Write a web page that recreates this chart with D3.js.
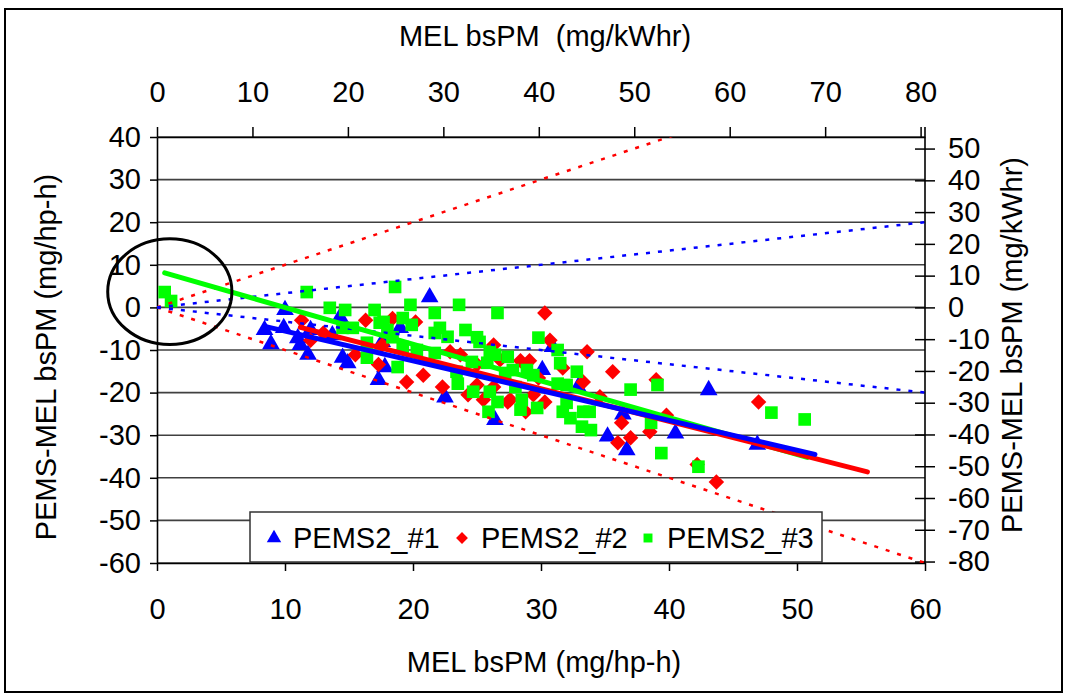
<!DOCTYPE html>
<html>
<head>
<meta charset="utf-8">
<script src="https://cdn.jsdelivr.net/npm/d3@7"></script>
<style>
  body { margin: 0; background: #fff; }
  text { font-family: "Liberation Sans", Arial, sans-serif; white-space: pre; }
</style>
</head>
<body>
<div id="chart"></div>
<script>
// PEMS2_#1 (triangles)
const pems1X = [8.4, 8.9, 10.0, 9.9, 11.0, 11.2, 11.8, 12.0, 14.3, 13.7, 14.5, 14.9, 17.3, 17.6, 17.8, 19.0, 21.3, 22.5, 26.4, 30.1, 30.9, 32.9, 35.2, 36.4, 36.7, 40.5, 43.1, 46.9];
const pems1Y = [-5.3, -8.6, -0.6, -4.8, -7.2, -8.8, -11.1, -5.3, -2.3, -6.5, -11.8, -13.1, -17.0, -8.1, -14.0, -4.8, 2.4, -21.1, -26.4, -14.7, -9.3, -18.7, -30.3, -25.1, -33.5, -29.6, -19.4, -32.2];

// PEMS2_#2 (diamonds)
const pems2X = [11.3, 16.3, 13.0, 12.0, 15.5, 17.3, 17.6, 18.4, 20.2, 19.5, 20.8, 22.3, 22.9, 23.7, 26.3, 24.3, 25.0, 25.5, 26.3, 26.8, 27.4, 25.0, 30.7, 33.6, 35.6, 28.4, 29.1, 27.6, 29.8, 30.3, 31.7, 33.3, 34.6, 36.3, 36.0, 37.0, 29.4, 28.8, 39.0, 39.8, 38.5, 42.2, 43.7, 47.0, 30.3];
const pems2Y = [-3.0, -3.0, -6.0, -7.7, -11.1, -13.4, -8.8, -2.6, -3.4, -17.5, -15.9, -18.7, -10.4, -11.1, -8.8, -20.5, -18.2, -21.7, -18.7, -12.3, -22.2, -13.4, -7.7, -10.4, -15.1, -12.5, -12.5, -21.7, -16.6, -22.2, -14.2, -17.5, -21.0, -27.1, -31.8, -30.6, -20.5, -24.5, -17.0, -25.3, -29.2, -36.9, -41.0, -22.2, -1.3];

// PEMS2_#3 (squares)
const pems3X = [0.6, 1.1, 11.7, 13.5, 14.7, 14.5, 17.0, 17.4, 15.3, 16.4, 16.4, 18.6, 19.8, 21.7, 23.6, 26.6, 17.7, 19.2, 19.9, 18.0, 18.4, 22.1, 21.7, 22.7, 24.1, 25.0, 25.2, 19.2, 20.3, 21.7, 18.8, 23.4, 24.6, 26.0, 26.4, 25.8, 23.5, 24.7, 26.0, 25.9, 26.6, 27.2, 29.8, 31.3, 31.5, 32.8, 27.4, 27.8, 28.9, 29.4, 28.0, 28.5, 28.4, 29.7, 31.3, 32.0, 32.0, 31.7, 32.3, 33.3, 33.8, 33.2, 33.9, 37.0, 39.1, 38.6, 39.4, 42.3, 48.0, 50.6];
const pems3Y = [3.6, 1.5, 3.6, -0.1, -0.6, -4.8, -0.6, -3.6, -4.8, -8.3, -11.8, 4.8, 0.6, -1.3, 0.6, -1.3, -3.4, -2.5, -4.1, -5.3, -7.0, -4.8, -6.0, -6.9, -5.3, -7.0, -8.1, -9.3, -10.0, -10.7, -14.0, -15.1, -12.8, -10.4, -11.1, -13.0, -17.9, -19.8, -19.8, -24.5, -22.2, -15.4, -7.1, -10.0, -13.1, -15.1, -11.6, -14.7, -14.7, -15.9, -18.7, -21.7, -24.0, -23.6, -17.9, -18.2, -22.4, -24.5, -26.0, -24.5, -24.5, -28.0, -28.8, -19.3, -18.2, -27.1, -34.2, -37.4, -24.7, -26.3];

// linear trend lines (end points)
const trend1X = [8.5, 51.4], trend1Y = [-4.5, -34.5];
const trend2X = [11.2, 55.5], trend2Y = [-4.7, -38.6];
const trend3X = [0.6, 50.8], trend3Y = [8.1, -35.2];

// +-100% and +-33% bands
const bandX = [0, 60];
const redUpper = [0, 60], redLower = [0, -60];
const blueUpper = [0, 20], blueLower = [0, -20];

// highlighted region near origin
const markCenter = [1.0, 3.7], markRadius = [4.85, 12.4];

const leftTicks = [40, 30, 20, 10, 0, -10, -20, -30, -40, -50, -60];
const bottomTicks = [0, 10, 20, 30, 40, 50, 60];
const topTicks = [0, 10, 20, 30, 40, 50, 60, 70, 80];
const rightTicks = [50, 40, 30, 20, 10, 0, -10, -20, -30, -40, -50, -60, -70, -80];
const seriesNames = ["PEMS2_#1", "PEMS2_#2", "PEMS2_#3"];

const width = 1069, height = 696;
const plot = { left: 157, right: 925, top: 137, bottom: 563 };
const kw = 0.7457; // hp-h -> kWh

const svg = d3.select("#chart").append("svg")
    .attr("width", width)
    .attr("height", height);

// outer frame
svg.append("rect")
    .attr("x", 5).attr("y", 9)
    .attr("width", 1057).attr("height", 683)
    .attr("fill", "#fff")
    .attr("stroke", "#000")
    .attr("stroke-width", 2);

const x = d3.scaleLinear().domain([0, 60]).range([plot.left, plot.right]);
const y = d3.scaleLinear().domain([-60, 40]).range([plot.bottom, plot.top]);
const xTop = d3.scaleLinear().domain([0, 60 / kw]).range([plot.left, plot.right]);
const yRight = d3.scaleLinear().domain([-60 / kw, 40 / kw]).range([plot.bottom, plot.top]);

svg.append("clipPath").attr("id", "clip")
    .append("rect")
    .attr("x", plot.left).attr("y", plot.top)
    .attr("width", plot.right - plot.left)
    .attr("height", plot.bottom - plot.top);

// grid lines
svg.append("g")
    .selectAll("line")
    .data(leftTicks)
    .join("line")
    .attr("x1", plot.left).attr("x2", plot.right)
    .attr("y1", d => y(d)).attr("y2", d => y(d))
    .attr("stroke", "#404040")
    .attr("stroke-width", 1.6);

const fontSize = "29px";
const fmt = d => String(d);
function styleAxis(g) {
    g.select(".domain").attr("stroke", "#000").attr("stroke-width", 1.6);
    g.selectAll(".tick line").attr("stroke", "#000").attr("stroke-width", 1.5);
    g.selectAll(".tick text").attr("fill", "#000").style("font-size", fontSize)
        .style("font-family", "'Liberation Sans', Arial, sans-serif");
}

svg.append("g")
    .attr("transform", `translate(${plot.left},0)`)
    .call(d3.axisLeft(y).tickValues(leftTicks).tickFormat(fmt).tickSize(7).tickPadding(9).tickSizeOuter(0))
    .call(styleAxis);

svg.append("g")
    .attr("transform", `translate(0,${plot.bottom})`)
    .call(d3.axisBottom(x).tickValues(bottomTicks).tickFormat(fmt).tickSize(8).tickPadding(27).tickSizeOuter(0))
    .call(styleAxis);

svg.append("g")
    .attr("transform", `translate(0,${plot.top})`)
    .call(d3.axisTop(xTop).tickValues(topTicks).tickFormat(fmt).tickSize(10).tickPadding(25).tickSizeOuter(0))
    .call(styleAxis);

const rightAxis = svg.append("g")
    .attr("transform", `translate(${plot.right},0)`)
    .call(d3.axisRight(yRight).tickValues(rightTicks).tickFormat(fmt).tickSize(10).tickPadding(13).tickSizeOuter(0))
    .call(styleAxis);
rightAxis.selectAll(".tick line").attr("x1", -10);
rightAxis.select(".domain").attr("d", `M0,${plot.top - 10}V${plot.bottom}`);

// axis titles
svg.append("text")
    .attr("x", 545).attr("y", 46)
    .attr("text-anchor", "middle")
    .style("font-size", fontSize)
    .text("MEL bsPM  (mg/kWhr)");

svg.append("text")
    .attr("x", 544).attr("y", 672)
    .attr("text-anchor", "middle")
    .style("font-size", fontSize)
    .text("MEL bsPM (mg/hp-h)");

svg.append("text")
    .attr("transform", "translate(56,357) rotate(-90)")
    .attr("text-anchor", "middle")
    .style("font-size", fontSize)
    .text("PEMS-MEL bsPM (mg/hp-h)");

svg.append("text")
    .attr("transform", "translate(1022,345) rotate(-90)")
    .attr("text-anchor", "middle")
    .style("font-size", fontSize)
    .text("PEMS-MEL bsPM (mg/kWhr)");

const chartArea = svg.append("g").attr("clip-path", "url(#clip)");

// markers
const tri = d3.symbol().type(d3.symbolTriangle).size(135);
const dia = d3.symbol().type(d3.symbolSquare).size(120);
const sq = d3.symbol().type(d3.symbolSquare).size(160);

chartArea.append("g").selectAll("path")
    .data(pems1X.map((d, i) => [d, pems1Y[i]]))
    .join("path")
    .attr("d", tri)
    .attr("transform", d => `translate(${x(d[0])},${y(d[1])})`)
    .attr("fill", "#0000ff");

chartArea.append("g").selectAll("path")
    .data(pems2X.map((d, i) => [d, pems2Y[i]]))
    .join("path")
    .attr("d", dia)
    .attr("transform", d => `translate(${x(d[0])},${y(d[1])}) rotate(45)`)
    .attr("fill", "#ff0000");

chartArea.append("g").selectAll("path")
    .data(pems3X.map((d, i) => [d, pems3Y[i]]))
    .join("path")
    .attr("d", sq)
    .attr("transform", d => `translate(${x(d[0])},${y(d[1])})`)
    .attr("fill", "#00ff00");

// dotted bands
const line = d3.line().x(d => x(d[0])).y(d => y(d[1]));
[[redUpper, "#ff0000"], [redLower, "#ff0000"], [blueUpper, "#0000ff"], [blueLower, "#0000ff"]]
    .forEach(([vals, color]) => {
        chartArea.append("path")
            .datum(bandX.map((d, i) => [d, vals[i]]))
            .attr("d", line)
            .attr("fill", "none")
            .attr("stroke", color)
            .attr("stroke-width", 2.5)
            .attr("stroke-dasharray", "4,8");
    });

// trend lines
[[trend3X, trend3Y, "#00ff00"], [trend2X, trend2Y, "#ff0000"], [trend1X, trend1Y, "#0000ff"]]
    .forEach(([xs, ys, color]) => {
        chartArea.append("path")
            .datum(xs.map((d, i) => [d, ys[i]]))
            .attr("d", line)
            .attr("fill", "none")
            .attr("stroke", color)
            .attr("stroke-width", 5)
            .attr("stroke-linecap", "round");
    });

// ellipse annotation
svg.append("ellipse")
    .attr("cx", x(markCenter[0]))
    .attr("cy", y(markCenter[1]))
    .attr("rx", x(markCenter[0] + markRadius[0]) - x(markCenter[0]))
    .attr("ry", y(markCenter[1] - markRadius[1]) - y(markCenter[1]))
    .attr("fill", "none")
    .attr("stroke", "#000")
    .attr("stroke-width", 3);

// legend
const legend = svg.append("g");
legend.append("rect")
    .attr("x", 250).attr("y", 512)
    .attr("width", 572).attr("height", 50)
    .attr("fill", "#fff")
    .attr("stroke", "#333")
    .attr("stroke-width", 1.5);

const legendSymbols = [
    d3.symbol().type(d3.symbolTriangle).size(90),
    d3.symbol().type(d3.symbolSquare).size(70),
    d3.symbol().type(d3.symbolSquare).size(80)
];
const legendColors = ["#0000ff", "#ff0000", "#00ff00"];
const legendX = [274, 462, 648];
seriesNames.forEach((name, i) => {
    legend.append("path")
        .attr("d", legendSymbols[i])
        .attr("transform", `translate(${legendX[i]},538)` + (i === 1 ? " rotate(45)" : ""))
        .attr("fill", legendColors[i]);
    legend.append("text")
        .attr("x", legendX[i] + 19).attr("y", 548)
        .style("font-size", fontSize)
        .text(name);
});
</script>
</body>
</html>
